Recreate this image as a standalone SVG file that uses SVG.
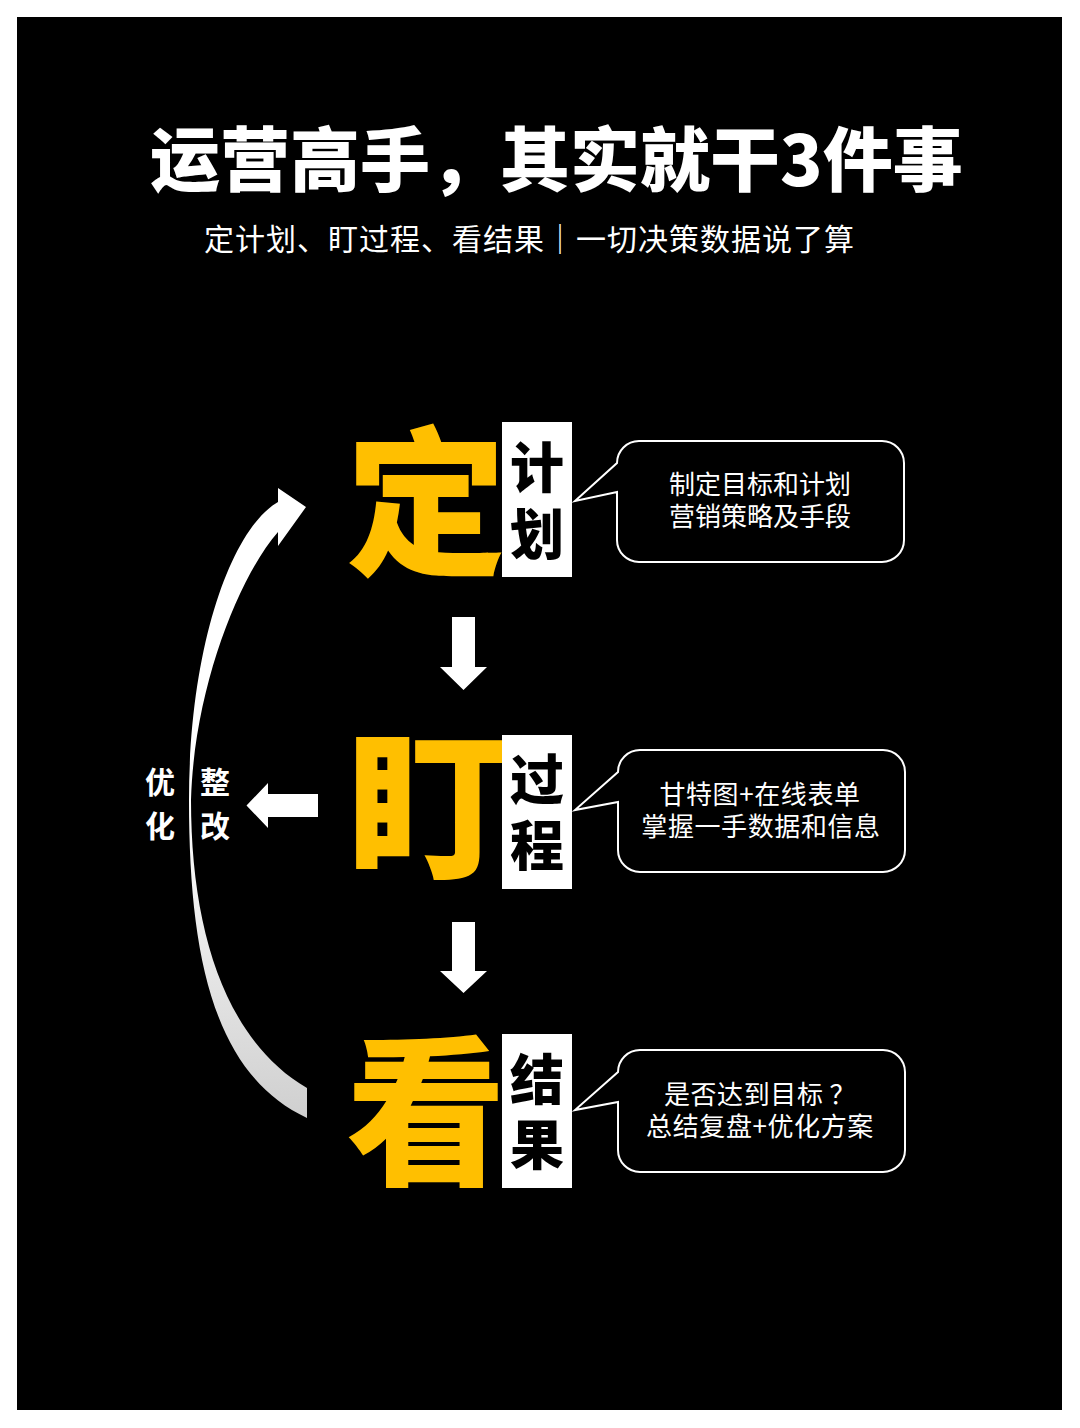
<svg xmlns="http://www.w3.org/2000/svg" width="1080" height="1428" viewBox="0 0 1080 1428">
<style>
  .cjk { font-family: "Noto Sans CJK SC", "Noto Sans", sans-serif; }
  .title { font-size: 70px; font-weight: 900; fill: #ffffff; }
  .sub { font-size: 30px; font-weight: 400; fill: #ffffff; letter-spacing: 1px; }
  .big { font-size: 160px; font-weight: 900; fill: #FFBF00; text-anchor: middle; }
  .tag { font-size: 54px; font-weight: 900; fill: #000000; text-anchor: middle; }
  .tagbox { fill: #ffffff; }
  .bubble { fill: #000000; stroke: #ffffff; stroke-width: 2; stroke-linejoin: miter; }
  .btxt { font-size: 26px; font-weight: 400; fill: #ffffff; text-anchor: middle; }
  .wide { letter-spacing: 0.6px; }
  .side { font-size: 30px; font-weight: 700; fill: #ffffff; text-anchor: middle; }
  .arrow { fill: #ffffff; }
</style>
<defs>
  <linearGradient id="curveGrad" gradientUnits="userSpaceOnUse" x1="0" y1="490" x2="0" y2="1120">
    <stop offset="0" stop-color="#ffffff"/>
    <stop offset="0.5" stop-color="#ffffff"/>
    <stop offset="1" stop-color="#cfcfcf"/>
  </linearGradient>
</defs>
<rect x="0" y="0" width="1080" height="1428" fill="#ffffff"/>
<rect x="17" y="17" width="1045" height="1393" fill="#000000"/>

<g id="title">
  <text class="cjk title" x="150" y="186">运营高手，其实就干3件事</text>
</g>
<g id="subtitle">
  <text class="cjk sub" x="204" y="250">定计划、盯过程、看结果｜一切决策数据说了算</text>
</g>

<g id="node-plan">
  <text class="cjk big" x="426" y="563">定</text>
  <rect class="tagbox" x="502" y="422" width="70" height="155"/>
  <text class="cjk tag"><tspan x="537" y="488">计</tspan><tspan x="537" y="555">划</tspan></text>
</g>
<g id="bubble-plan">
  <path class="bubble" d="M617,463 A22,22 0 0 1 639,441 H882 A22,22 0 0 1 904,463 V540 A22,22 0 0 1 882,562 H639 A22,22 0 0 1 617,540 V492 L575,501 Z"/>
  <text class="cjk btxt"><tspan x="760" y="494">制定目标和计划</tspan><tspan x="760" y="526">营销策略及手段</tspan></text>
</g>

<g id="node-process">
  <text class="cjk big" x="428" y="866">盯</text>
  <rect class="tagbox" x="502" y="735" width="70" height="154"/>
  <text class="cjk tag"><tspan x="537" y="800">过</tspan><tspan x="537" y="866">程</tspan></text>
</g>
<g id="bubble-process">
  <path class="bubble" d="M618,772 A22,22 0 0 1 640,750 H883 A22,22 0 0 1 905,772 V850 A22,22 0 0 1 883,872 H640 A22,22 0 0 1 618,850 V802 L575,810 Z"/>
  <text class="cjk btxt wide"><tspan x="760" y="804">甘特图+在线表单</tspan><tspan x="761" y="836">掌握一手数据和信息</tspan></text>
</g>

<g id="node-result">
  <text class="cjk big" x="426" y="1172">看</text>
  <rect class="tagbox" x="502" y="1034" width="70" height="154"/>
  <text class="cjk tag"><tspan x="537" y="1100">结</tspan><tspan x="537" y="1165">果</tspan></text>
</g>
<g id="bubble-result">
  <path class="bubble" d="M618,1072 A22,22 0 0 1 640,1050 H883 A22,22 0 0 1 905,1072 V1150 A22,22 0 0 1 883,1172 H640 A22,22 0 0 1 618,1150 V1102 L575,1110 Z"/>
  <text class="cjk btxt wide"><tspan x="760" y="1104">是否达到目标<tspan dx="6">？</tspan></tspan><tspan x="760" y="1136">总结复盘+优化方案</tspan></text>
</g>

<g id="label-optimize">
  <text class="cjk side"><tspan x="160" y="793">优</tspan><tspan x="160" y="837">化</tspan></text>
  <text class="cjk side"><tspan x="215" y="793">整</tspan><tspan x="215" y="837">改</tspan></text>
</g>

<g id="connectors">
  <path class="arrow" d="M452,617 H475 V667 H487 L463.5,690 L440,667 H452 Z"/>
  <path class="arrow" d="M452,922 H475 V971 H487 L463.5,993 L440,971 H452 Z"/>
  <path class="arrow" d="M318,794 V817 H268 V828 L246.5,805.5 L268,783 V794 Z"/>
  <path fill="url(#curveGrad)" d="M278,532 L278,546 L306,507 L278,488 L278,502 C230,530 189,650 189,800 C189,960 215,1075 307,1118 L307,1088 C225,1040 191,930 191,800 C194,690 238,578 278,532 Z"/>
</g>
</svg>
